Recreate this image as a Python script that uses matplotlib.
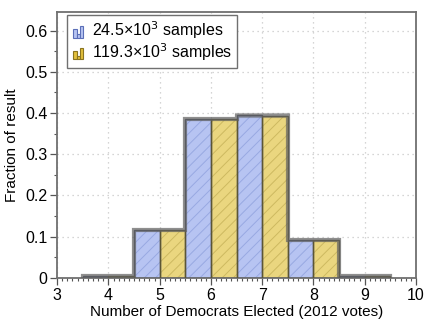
import numpy as np
import matplotlib
matplotlib.use('Agg')
import matplotlib.pyplot as plt
from matplotlib.legend_handler import HandlerBase
from matplotlib.patches import Rectangle
from matplotlib.ticker import MultipleLocator

plt.rcParams['font.family'] = ['Liberation Sans', 'DejaVu Sans']
plt.rcParams['hatch.linewidth'] = 0.7

# Histogram of seats won, two sample sizes
seats = np.array([4, 5, 6, 7, 8, 9])
frac_small = np.array([0.005, 0.115, 0.385, 0.395, 0.093, 0.005])
frac_large = np.array([0.005, 0.117, 0.386, 0.392, 0.092, 0.005])
labels = ['24.5×10$^3$ samples', '119.3×10$^3$ samples']

blue, blue_hatch, blue_edge = '#b7c4f2', '#98a9e2', '#4d5366'
yellow, yellow_hatch, yellow_edge = '#ead67f', '#cdb960', '#5c5634'


class HistIcon(HandlerBase):
    # little bar-chart glyph for the legend
    def __init__(self, face, edge):
        super().__init__()
        self.face, self.edge = face, edge

    def create_artists(self, legend, orig_handle, xd, yd, w, h, fontsize, trans):
        arts = []
        bw = w / 3.5
        for i, fh in enumerate([0.75, 0.3, 1.0]):
            r = Rectangle((xd + w * 0.1 + i * bw, yd - h * 0.1), bw, h * fh,
                          facecolor=self.face, edgecolor=self.edge, lw=0.8,
                          transform=trans)
            arts.append(r)
        return arts


fig, ax = plt.subplots(figsize=(4.36, 3.25), dpi=100)
fig.subplots_adjust(left=0.131, right=0.954, bottom=0.145, top=0.963)

ax.grid(True, color='#c8c8c8', linestyle=(0, (1, 3)), lw=0.9)
ax.set_axisbelow(True)

# fills with hatching
ax.bar(seats - 0.25, frac_small, width=0.5, color=blue, hatch='///',
       edgecolor=blue_hatch, lw=0, zorder=2)
ax.bar(seats + 0.25, frac_large, width=0.5, color=yellow, hatch='///',
       edgecolor=yellow_hatch, lw=0, zorder=2)
# outlines
ax.bar(seats - 0.25, frac_small, width=0.5, fill=False,
       edgecolor=blue_edge, lw=1.0, zorder=3)
ax.bar(seats + 0.25, frac_large, width=0.5, fill=False,
       edgecolor=yellow_edge, lw=1.0, zorder=3)

edges = np.append(seats - 0.5, seats[-1] + 0.5)
ax.stairs(frac_small, edges, baseline=0, color='#606060', lw=3, alpha=0.45, zorder=4)
ax.stairs(frac_large, edges, baseline=0, color='#606060', lw=3, alpha=0.45, zorder=4)

ax.set_xlim(3, 10)
ax.set_ylim(0, 0.645)
ax.xaxis.set_major_locator(MultipleLocator(1))
ax.xaxis.set_minor_locator(MultipleLocator(0.1))
ax.yaxis.set_minor_locator(MultipleLocator(0.05))
ax.set_yticks(np.arange(0, 0.61, 0.1))
ax.set_yticklabels(['0', '0.1', '0.2', '0.3', '0.4', '0.5', '0.6'])

ax.tick_params(which='major', length=5, width=0.9, color='#555555', labelsize=11.5, pad=2)
ax.tick_params(which='minor', length=2.5, width=0.8, color='#555555')
for s in ax.spines.values():
    s.set_color('#707070')
    s.set_linewidth(1.3)

ax.set_xlabel('Number of Democrats Elected (2012 votes)', fontsize=11, labelpad=2)
ax.set_ylabel('Fraction of result', fontsize=11, labelpad=4)

h1 = Rectangle((0, 0), 1, 1)
h2 = Rectangle((0, 0), 1, 1)
leg = ax.legend([h1, h2], labels, loc='upper left', fontsize=11.5,
                handler_map={h1: HistIcon(blue, '#5b6fb8'), h2: HistIcon('#e2c03c', '#8a7420')},
                handlelength=0.75, handleheight=0.7, handletextpad=0.5,
                borderpad=0.3, labelspacing=0.0, fancybox=False,
                borderaxespad=0, bbox_to_anchor=(0.028, 0.989), framealpha=1)
leg.get_frame().set_edgecolor('#707070')
leg.get_frame().set_linewidth(1.0)

fig.savefig('out.png', dpi=100)
